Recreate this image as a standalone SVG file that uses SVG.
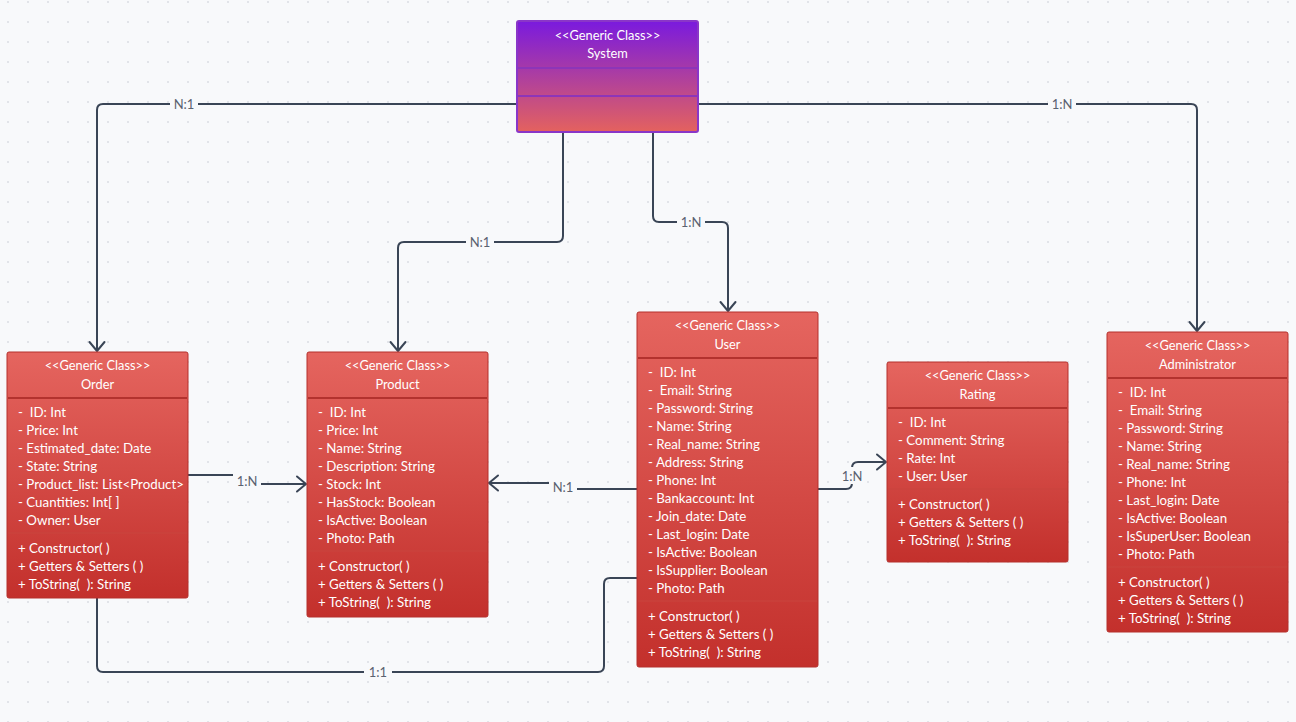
<svg xmlns="http://www.w3.org/2000/svg" width="1296" height="722" viewBox="0 0 1296 722">
<defs>
<pattern id="dots" x="8" y="2" width="20" height="20" patternUnits="userSpaceOnUse">
<circle cx="0" cy="0" r="1.1" fill="#dcdfe5"/><circle cx="20" cy="0" r="1.1" fill="#dcdfe5"/><circle cx="0" cy="20" r="1.1" fill="#dcdfe5"/><circle cx="20" cy="20" r="1.1" fill="#dcdfe5"/>
</pattern>
<linearGradient id="gRed" x1="0" y1="0" x2="0" y2="1">
<stop offset="0" stop-color="#e5655f"/><stop offset="1" stop-color="#c3302c"/>
</linearGradient>
<linearGradient id="gSys" x1="0" y1="0" x2="0" y2="1">
<stop offset="0" stop-color="#7a1ade"/><stop offset="0.45" stop-color="#a83ba6"/><stop offset="1" stop-color="#e4625e"/>
</linearGradient>
<marker id="arr" viewBox="-12 -10 14 20" refX="0" refY="0" markerWidth="14" markerHeight="20" markerUnits="userSpaceOnUse" orient="auto">
<path d="M-9,-7.5 L0,0 L-9,7.5" fill="none" stroke="#3a4556" stroke-width="2" stroke-linecap="round" stroke-linejoin="round"/>
</marker>
</defs>
<style>
text{font-family:Lato,"Liberation Sans",sans-serif;white-space:pre}
.box{fill:url(#gRed);stroke:#b5302c;stroke-width:1}
.hdiv{stroke:#b3322e;stroke-width:2}
.mdiv{stroke:#c9443f;stroke-width:1}
.tc{fill:#ffffff;font-size:12.8px;text-anchor:middle}
.a{fill:#ffffff;font-size:13.3px}
.c{fill:none;stroke:#3a4556;stroke-width:2}
.lb{fill:#f8f9fb}
.lt{fill:#5b6270;font-size:13px;text-anchor:middle}
</style>
<rect width="1296" height="722" fill="#f8f9fb"/>
<rect width="1296" height="722" fill="url(#dots)"/>

<g id="connectors">
<path class="c" d="M517,104 H103 Q97,104 97,110 V351" marker-end="url(#arr)"/>
<path class="c" d="M698,104 H1191 Q1197,104 1197,110 V331" marker-end="url(#arr)"/>
<path class="c" d="M563,132 V236 Q563,242 557,242 H404 Q398,242 398,248 V351" marker-end="url(#arr)"/>
<path class="c" d="M653,132 V216 Q653,222 659,222 H722 Q728,222 728,228 V311" marker-end="url(#arr)"/>
<path class="c" d="M188,475 H247 V484 H306" marker-end="url(#arr)"/>
<path class="c" d="M637,489 H563 V483 H489" marker-end="url(#arr)"/>
<path class="c" d="M818,489 H846 Q852,489 852,483 V468 Q852,462 858,462 H886" marker-end="url(#arr)"/>
<path class="c" d="M97,598 V666 Q97,672 103,672 H598 Q604,672 604,666 V584 Q604,578 610,578 H637"/>
<rect class="lb" x="170" y="96" width="28" height="16"/><text class="lt" x="184" y="108.5">N:1</text>
<rect class="lb" x="1048" y="96" width="28" height="16"/><text class="lt" x="1062" y="108.5">1:N</text>
<rect class="lb" x="466" y="234" width="28" height="16"/><text class="lt" x="480" y="246.5">N:1</text>
<rect class="lb" x="677" y="214" width="28" height="16"/><text class="lt" x="691" y="226.5">1:N</text>
<rect class="lb" x="233" y="472" width="28" height="18"/><text class="lt" x="247" y="486">1:N</text>
<rect class="lb" x="549" y="478" width="28" height="17"/><text class="lt" x="563" y="491.5">N:1</text>
<rect class="lb" x="839" y="467" width="26" height="17"/><text class="lt" x="852" y="481">1:N</text>
<rect class="lb" x="364" y="664" width="28" height="16"/><text class="lt" x="378" y="676.5">1:1</text>
</g>

<g id="system">
<rect x="517" y="21" width="181" height="111" rx="2" fill="url(#gSys)" stroke="#8a36c8" stroke-width="2"/>
<line x1="518" y1="68" x2="697" y2="68" stroke="#8d35b8" stroke-width="2"/>
<line x1="518" y1="96" x2="697" y2="96" stroke="#8d35b8" stroke-width="2"/>
<text class="tc" x="607.5" y="40">&lt;&lt;Generic Class&gt;&gt;</text>
<text class="tc" x="607.5" y="58">System</text>
</g>

<g id="order">
<rect class="box" x="7" y="352" width="181" height="246" rx="2"/>
<line class="hdiv" x1="8" y1="398" x2="187" y2="398"/>
<line class="mdiv" x1="8" y1="533" x2="187" y2="533"/>
<text class="tc" x="97.5" y="370">&lt;&lt;Generic Class&gt;&gt;</text>
<text class="tc" x="97.5" y="389">Order</text>
<text class="a" x="18" y="417">-  ID: Int</text>
<text class="a" x="18" y="435">- Price: Int</text>
<text class="a" x="18" y="453">- Estimated_date: Date</text>
<text class="a" x="18" y="471">- State: String</text>
<text class="a" x="18" y="489">- Product_list: List&lt;Product&gt;</text>
<text class="a" x="18" y="507">- Cuantities: Int[ ]</text>
<text class="a" x="18" y="525">- Owner: User</text>
<text class="a" x="18" y="553">+ Constructor( )</text>
<text class="a" x="18" y="571">+ Getters &amp; Setters ( )</text>
<text class="a" x="18" y="589">+ ToString(  ): String</text>
</g>

<g id="product">
<rect class="box" x="307" y="352" width="181" height="265" rx="2"/>
<line class="hdiv" x1="308" y1="398" x2="487" y2="398"/>
<line class="mdiv" x1="308" y1="551" x2="487" y2="551"/>
<text class="tc" x="397.5" y="370">&lt;&lt;Generic Class&gt;&gt;</text>
<text class="tc" x="397.5" y="389">Product</text>
<text class="a" x="318" y="417">-  ID: Int</text>
<text class="a" x="318" y="435">- Price: Int</text>
<text class="a" x="318" y="453">- Name: String</text>
<text class="a" x="318" y="471">- Description: String</text>
<text class="a" x="318" y="489">- Stock: Int</text>
<text class="a" x="318" y="507">- HasStock: Boolean</text>
<text class="a" x="318" y="525">- IsActive: Boolean</text>
<text class="a" x="318" y="543">- Photo: Path</text>
<text class="a" x="318" y="571">+ Constructor( )</text>
<text class="a" x="318" y="589">+ Getters &amp; Setters ( )</text>
<text class="a" x="318" y="607">+ ToString(  ): String</text>
</g>

<g id="user">
<rect class="box" x="637" y="312" width="181" height="355" rx="2"/>
<line class="hdiv" x1="638" y1="358" x2="817" y2="358"/>
<line class="mdiv" x1="638" y1="601" x2="817" y2="601"/>
<text class="tc" x="727.5" y="330">&lt;&lt;Generic Class&gt;&gt;</text>
<text class="tc" x="727.5" y="349">User</text>
<text class="a" x="648" y="377">-  ID: Int</text>
<text class="a" x="648" y="395">-  Email: String</text>
<text class="a" x="648" y="413">- Password: String</text>
<text class="a" x="648" y="431">- Name: String</text>
<text class="a" x="648" y="449">- Real_name: String</text>
<text class="a" x="648" y="467">- Address: String</text>
<text class="a" x="648" y="485">- Phone: Int</text>
<text class="a" x="648" y="503">- Bankaccount: Int</text>
<text class="a" x="648" y="521">- Join_date: Date</text>
<text class="a" x="648" y="539">- Last_login: Date</text>
<text class="a" x="648" y="557">- IsActive: Boolean</text>
<text class="a" x="648" y="575">- IsSupplier: Boolean</text>
<text class="a" x="648" y="593">- Photo: Path</text>
<text class="a" x="648" y="621">+ Constructor( )</text>
<text class="a" x="648" y="639">+ Getters &amp; Setters ( )</text>
<text class="a" x="648" y="657">+ ToString(  ): String</text>
</g>

<g id="rating">
<rect class="box" x="887" y="362" width="181" height="200" rx="2"/>
<line class="hdiv" x1="888" y1="408" x2="1067" y2="408"/>
<line class="mdiv" x1="888" y1="489" x2="1067" y2="489"/>
<text class="tc" x="977.5" y="380">&lt;&lt;Generic Class&gt;&gt;</text>
<text class="tc" x="977.5" y="399">Rating</text>
<text class="a" x="898" y="427">-  ID: Int</text>
<text class="a" x="898" y="445">- Comment: String</text>
<text class="a" x="898" y="463">- Rate: Int</text>
<text class="a" x="898" y="481">- User: User</text>
<text class="a" x="898" y="509">+ Constructor( )</text>
<text class="a" x="898" y="527">+ Getters &amp; Setters ( )</text>
<text class="a" x="898" y="545">+ ToString(  ): String</text>
</g>

<g id="administrator">
<rect class="box" x="1107" y="332" width="181" height="300" rx="2"/>
<line class="hdiv" x1="1108" y1="378" x2="1287" y2="378"/>
<line class="mdiv" x1="1108" y1="567" x2="1287" y2="567"/>
<text class="tc" x="1197.5" y="350">&lt;&lt;Generic Class&gt;&gt;</text>
<text class="tc" x="1197.5" y="369">Administrator</text>
<text class="a" x="1118" y="397">-  ID: Int</text>
<text class="a" x="1118" y="415">-  Email: String</text>
<text class="a" x="1118" y="433">- Password: String</text>
<text class="a" x="1118" y="451">- Name: String</text>
<text class="a" x="1118" y="469">- Real_name: String</text>
<text class="a" x="1118" y="487">- Phone: Int</text>
<text class="a" x="1118" y="505">- Last_login: Date</text>
<text class="a" x="1118" y="523">- IsActive: Boolean</text>
<text class="a" x="1118" y="541">- IsSuperUser: Boolean</text>
<text class="a" x="1118" y="559">- Photo: Path</text>
<text class="a" x="1118" y="587">+ Constructor( )</text>
<text class="a" x="1118" y="605">+ Getters &amp; Setters ( )</text>
<text class="a" x="1118" y="623">+ ToString(  ): String</text>
</g>
</svg>
